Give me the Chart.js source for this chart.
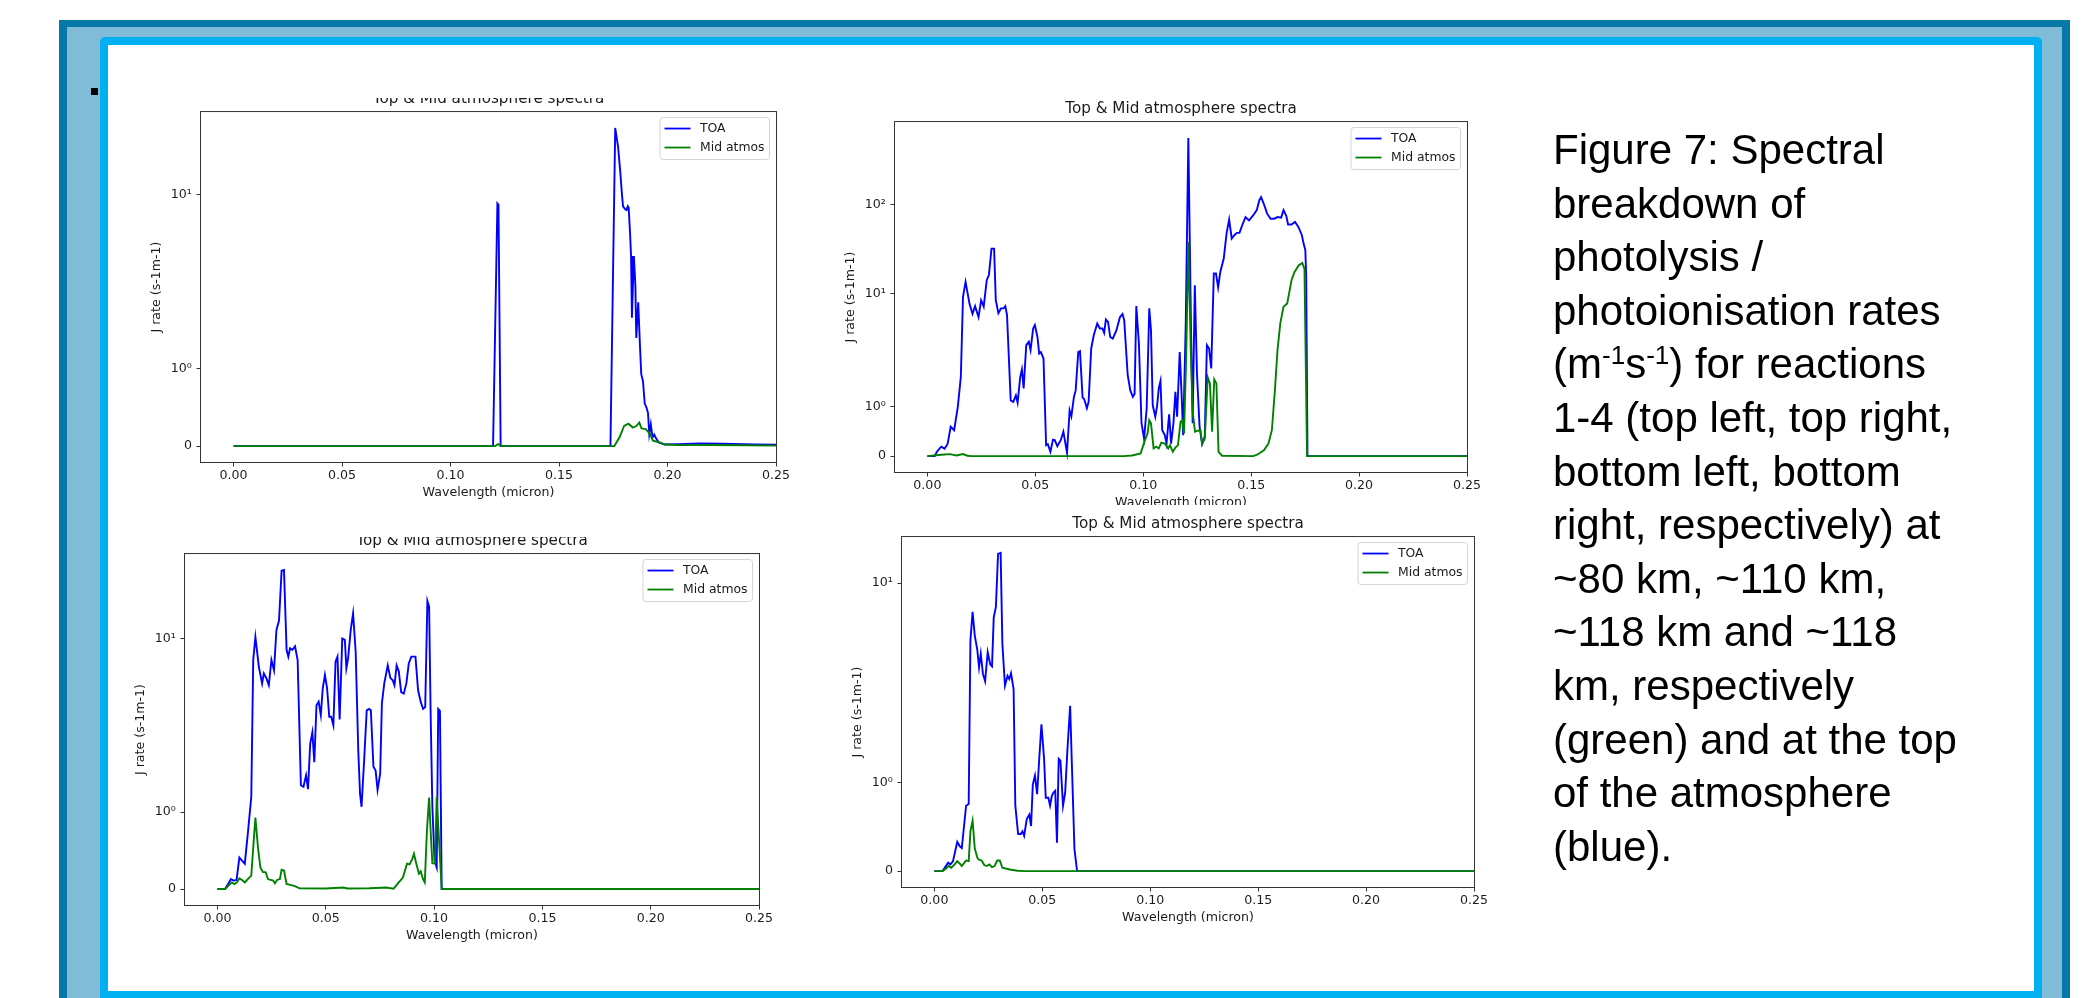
<!DOCTYPE html>
<html lang="en">
<head>
<meta charset="utf-8">
<title>Spectral breakdown of photolysis rates</title>
<script src="https://cdn.jsdelivr.net/npm/chart.js@4.4.0/dist/chart.umd.min.js"></script>
<style>
  html, body { margin: 0; padding: 0; width: 2081px; height: 998px; overflow: hidden; background: #fff; }
  .frame-dark { position: absolute; left: 59px; top: 20px; width: 2011px; height: 1000px; background: #0779a8; }
  .frame-light { position: absolute; left: 67px; top: 27px; width: 1995px; height: 1000px; background: #80bbd8; }
  .frame-cyan { position: absolute; left: 100px; top: 37px; width: 1942px; height: 1000px; background: #00b0f0; border-radius: 5px; }
  .panel { position: absolute; left: 108px; top: 45px; width: 1926px; height: 946px; background: #fff; }
  .bullet { position: absolute; left: 91px; top: 88px; width: 7px; height: 7px; background: #000; }
  canvas { position: absolute; }
  .caption { position: absolute; left: 1553px; top: 123px; font: 42px "Liberation Sans", Arial, sans-serif; line-height: 53.6px; color: #000; white-space: nowrap; }
  .caption .sup { font-size: 0.62em; position: relative; top: -0.55em; line-height: 0; }
</style>
</head>
<body>
<div class="frame-dark"></div>
<div class="frame-light"></div>
<div class="frame-cyan"></div>
<div class="panel"></div>
<div class="bullet"></div>

<canvas id="c1" width="735" height="425" style="left:121px;top:82px;clip-path:inset(16px 0 0 0)"></canvas>
<canvas id="c2" width="732" height="425" style="left:815px;top:92px;clip-path:inset(0 0 12px 0)"></canvas>
<canvas id="c3" width="734" height="426" style="left:105px;top:524px;clip-path:inset(13px 0 0 0)"></canvas>
<canvas id="c4" width="732" height="425" style="left:822px;top:507px"></canvas>

<div class="caption">Figure 7: Spectral<br>breakdown of<br>photolysis /<br>photoionisation rates<br>(m<span class="sup">-1</span>s<span class="sup">-1</span>) for reactions<br>1-4 (top left, top right,<br>bottom left, bottom<br>right, respectively) at<br>~80 km, ~110 km,<br>~118 km and ~118<br>km, respectively<br>(green) and at the top<br>of the atmosphere<br>(blue).</div>

<script>
// labels
const chartTitle = 'Top & Mid atmosphere spectra';
const xLabel = 'Wavelength (micron)';
const yLabel = 'J rate (s-1m-1)';
const seriesNames = ['TOA', 'Mid atmos'];
const xTicks = [0, 0.05, 0.10, 0.15, 0.20, 0.25];
const xMin = -0.015, xMax = 0.25;

// top left
const c1ToaX = [0, 0.1196, 0.1216, 0.1221, 0.1231, 0.1737, 0.1759, 0.1772, 0.1782, 0.1790, 0.1795, 0.1805, 0.1811, 0.1817, 0.1821,
  0.1827, 0.1832, 0.1836, 0.1845, 0.1852, 0.1856, 0.1865, 0.1873, 0.1879, 0.1887, 0.1895, 0.1903, 0.1910, 0.1916, 0.1923, 0.1931,
  0.1939, 0.1947, 0.1960, 0.1986, 0.205, 0.215, 0.225, 0.240, 0.30];
const c1ToaY = [0, 0, 8.6, 8.4, 0, 0, 30, 22, 14.7, 10, 8.2, 7.8, 7.7, 8.2, 8.0,
  5.4, 3.6, 1.66, 3.6, 2.2, 1.40, 1.86, 1.3, 0.93, 0.84, 0.55, 0.50, 0.43, 0.155, 0.28, 0.11,
  0.15, 0.10, 0.047, 0.02, 0.025, 0.035, 0.03, 0.02, 0.01];
const c1MidX = [0, 0.1205, 0.1220, 0.1235, 0.1755, 0.1780, 0.1800, 0.1820, 0.1840, 0.1856, 0.1870, 0.1880, 0.1900, 0.1920, 0.1933,
  0.1960, 0.1990, 0.205, 0.220, 0.235, 0.250, 0.30];
const c1MidY = [0, 0, 0.025, 0, 0, 0.12, 0.26, 0.29, 0.24, 0.26, 0.305, 0.23, 0.22, 0.155, 0.07,
  0.05, 0.02, 0.012, 0.015, 0.01, 0.006, 0.003];

// top right
const c2ToaX = [0, 0.0034, 0.0044, 0.0064, 0.0080, 0.0094, 0.0108, 0.0124, 0.0141, 0.0155,
  0.0165, 0.0177, 0.0195, 0.0209, 0.0221, 0.0237, 0.0249, 0.0261, 0.0275, 0.0285,
  0.0297, 0.0309, 0.0317, 0.0329, 0.0341, 0.0353, 0.0361, 0.0369, 0.0386, 0.0398,
  0.0410, 0.0418, 0.0430, 0.0438, 0.0446, 0.0458, 0.0470, 0.0478, 0.0490, 0.0498,
  0.0510, 0.0518, 0.0526, 0.0538, 0.0550, 0.0558, 0.0570, 0.0582, 0.0590, 0.0602,
  0.0618, 0.0630, 0.0647, 0.0659, 0.0667, 0.0679, 0.0687, 0.0699, 0.0707, 0.0719,
  0.0727, 0.0739, 0.0747, 0.0759, 0.0771, 0.0787, 0.0799, 0.0811, 0.0819, 0.0827,
  0.0837, 0.0847, 0.0859, 0.0876, 0.0892, 0.0904, 0.0912, 0.0928, 0.0940, 0.0952,
  0.0960, 0.0968, 0.0980, 0.0992, 0.1004, 0.1016, 0.1028, 0.1036, 0.1044, 0.1056,
  0.1064, 0.1072, 0.1080, 0.1088, 0.1100, 0.1108, 0.1120, 0.1129, 0.1140, 0.1149,
  0.1157, 0.1169, 0.1177, 0.1185, 0.1197, 0.1209, 0.1221, 0.1229, 0.1239, 0.1249,
  0.1261, 0.1273, 0.1285, 0.1295, 0.1305, 0.1315, 0.1327, 0.1337, 0.1347, 0.1357,
  0.1373, 0.1386, 0.1398, 0.1410, 0.1422, 0.1434, 0.1446, 0.1458, 0.1474, 0.1490,
  0.1510, 0.1526, 0.1538, 0.1546, 0.1558, 0.1574, 0.1590, 0.1606, 0.1623, 0.1639,
  0.1650, 0.1663, 0.1671, 0.1687, 0.1703, 0.1719, 0.1735, 0.1743, 0.1751, 0.1755,
  0.1761, 0.30];
const c2ToaY = [0, 0, 0.087, 0.19, 0.15, 0.25, 0.59, 0.52, 0.99, 1.59,
  9.27, 13.6, 7.8, 6.0, 7.3, 5.5, 8.5, 7.2, 14.2, 16.2,
  32, 32, 8.5, 6.1, 6.9, 6.9, 7.3, 5.8, 1.12, 1.09,
  1.22, 1.07, 1.58, 1.74, 1.36, 2.68, 2.92, 2.36, 4.11, 4.48,
  3.31, 2.16, 2.24, 1.96, 0.22, 0.24, 0.087, 0.33, 0.32, 0.2,
  0.32, 0.49, 0.067, 0.92, 0.80, 1.19, 1.32, 2.24, 2.3, 1.18,
  1.14, 0.96, 1.09, 2.46, 3.47, 4.68, 4.11, 4.11, 3.67, 5.18,
  4.88, 3.31, 3.17, 3.94, 5.5, 5.95, 5.07, 1.63, 1.32, 1.19,
  1.25, 7.3, 2.8, 0.66, 0.35, 0.96, 6.9, 3.94, 1.02, 0.79,
  1.0, 1.36, 1.51, 0.52, 0.42, 0.25, 0.84, 0.25, 0.66, 1.29,
  0.79, 2.24, 1.32, 0.42, 4.68, 550, 4.68, 0.66, 12.5, 1.66,
  0.59, 0.24, 0.39, 2.68, 2.46, 1.76, 16.9, 16.9, 11.8, 17.6,
  24.8, 47, 67.6, 41.5, 45.2, 48, 48, 58, 72, 66,
  75.5, 86, 111, 120, 102, 78.6, 69, 69, 72, 71,
  86, 73.7, 59.5, 59.5, 63.6, 56, 45.2, 36.4, 30.8, 15.5,
  0, 0];
const c2MidX = [0, 0.0064, 0.0104, 0.0135, 0.0165, 0.0185, 0.0205, 0.0908, 0.0948, 0.0988,
  0.1008, 0.1020, 0.1028, 0.1036, 0.1048, 0.1060, 0.1072, 0.1084, 0.1100, 0.1116,
  0.1124, 0.1137, 0.1149, 0.1161, 0.1173, 0.1181, 0.1189, 0.1199, 0.1209, 0.1221,
  0.1229, 0.1240, 0.1253, 0.1265, 0.1273, 0.1285, 0.1299, 0.1309, 0.1319, 0.1329,
  0.1339, 0.1349, 0.1365, 0.1510, 0.1530, 0.1560, 0.1580, 0.1596, 0.1610, 0.1622,
  0.1635, 0.1650, 0.1667, 0.1687, 0.1701, 0.1721, 0.1737, 0.1747, 0.1759, 0.30];
const c2MidY = [0, 0.027, 0.04, 0.013, 0.04, 0.007, 0, 0, 0.013, 0.054,
  0.32, 0.455, 0.72, 0.66, 0.154, 0.19, 0.154, 0.27, 0.25, 0.154,
  0.22, 0.087, 0.17, 0.22, 0.69, 0.72, 0.455, 1.99, 38, 2.0,
  0.89, 0.49, 0.51, 0.52, 0.25, 0.35, 1.58, 1.46, 0.49, 1.54,
  1.46, 0.087, 0.007, 0, 0.033, 0.12, 0.25, 0.52, 1.32, 2.36,
  4.68, 7.2, 7.8, 14.2, 17.6, 20.9, 22.2, 19, 0, 0];

// bottom left
const c3ToaX = [0, 0.0035, 0.0049, 0.0062, 0.0074, 0.0088, 0.0101, 0.0113, 0.0126, 0.0140,
  0.0156, 0.0165, 0.0175, 0.0191, 0.0206, 0.0214, 0.0226, 0.0237, 0.0249, 0.0261,
  0.0272, 0.0284, 0.0296, 0.0307, 0.0319, 0.0327, 0.0335, 0.0346, 0.0358, 0.0370,
  0.0385, 0.0397, 0.0409, 0.0418, 0.0428, 0.0438, 0.0447, 0.0457, 0.0467, 0.0477,
  0.0486, 0.0496, 0.0506, 0.0516, 0.0525, 0.0535, 0.0545, 0.0554, 0.0564, 0.0576,
  0.0588, 0.0595, 0.0603, 0.0615, 0.0626, 0.0638, 0.0650, 0.0658, 0.0665, 0.0677,
  0.0689, 0.0700, 0.0708, 0.0720, 0.0730, 0.0739, 0.0751, 0.0759, 0.0770, 0.0786,
  0.0798, 0.0809, 0.0817, 0.0827, 0.0837, 0.0848, 0.0860, 0.0872, 0.0883, 0.0895,
  0.0914, 0.0926, 0.0938, 0.0949, 0.0959, 0.0969, 0.0977, 0.0984, 0.0992, 0.1002,
  0.1012, 0.1019, 0.1027, 0.1035, 0.30];
const c3ToaY = [0, 0, 0.065, 0.13, 0.11, 0.117, 0.41, 0.37, 0.33, 0.72,
  1.2, 7.0, 10.3, 6.25, 4.74, 5.6, 5.15, 4.6, 7.0, 5.9,
  11.5, 13.5, 30.9, 31.3, 8.3, 7.4, 8.5, 8.3, 8.8, 7.0,
  1.35, 1.33, 1.48, 1.30, 1.89, 2.1, 1.65, 3.3, 3.5, 2.8,
  4.36, 5.45, 4.36, 2.72, 2.72, 2.36, 6.8, 7.4, 2.6, 10.0,
  9.8, 6.1, 7.2, 11.5, 15.2, 8.0, 1.80, 1.24, 1.07, 1.67,
  3.03, 3.1, 3.03, 1.59, 1.54, 1.29, 1.5, 3.4, 4.74, 6.4,
  5.2, 5.0, 4.6, 6.4, 5.8, 4.1, 4.0, 4.74, 6.6, 7.4,
  7.4, 4.25, 3.5, 3.1, 3.2, 18.7, 17.0, 2.9, 1.07, 0.37,
  0.28, 3.1, 3.0, 0, 0];
const c3MidX = [0, 0.0035, 0.0050, 0.0066, 0.0078, 0.0090, 0.0101, 0.0113, 0.0126, 0.0140,
  0.0156, 0.0165, 0.0175, 0.0187, 0.0198, 0.0210, 0.0222, 0.0233, 0.0245, 0.0257,
  0.0265, 0.0276, 0.0288, 0.0296, 0.0307, 0.0319, 0.0340, 0.0360, 0.0379, 0.0500,
  0.0580, 0.0600, 0.0700, 0.0759, 0.0778, 0.0813, 0.0837, 0.0856, 0.0875, 0.0887,
  0.0899, 0.0907, 0.0918, 0.0930, 0.0938, 0.0949, 0.0957, 0.0967, 0.0977, 0.0984,
  0.0992, 0.1004, 0.1012, 0.1023, 0.1035, 0.30];
const c3MidY = [0, 0, 0.043, 0.087, 0.065, 0.087, 0.14, 0.117, 0.087, 0.13,
  0.174, 0.54, 0.93, 0.54, 0.28, 0.22, 0.22, 0.13, 0.12, 0.11,
  0.074, 0.12, 0.13, 0.25, 0.24, 0.065, 0.052, 0.035, 0.009, 0.008,
  0.02, 0.008, 0.01, 0.017, 0.02, 0.005, 0.087, 0.15, 0.33, 0.32,
  0.39, 0.46, 0.33, 0.2, 0.23, 0.13, 0.087, 0.76, 1.19, 0.76,
  0.335, 0.33, 1.2, 0.63, 0, 0];

// bottom right
const c4ToaX = [0, 0.0038, 0.0050, 0.0064, 0.0074, 0.0086, 0.0106, 0.0118, 0.0127, 0.0147,
  0.0159, 0.0167, 0.0177, 0.0187, 0.0199, 0.0207, 0.0215, 0.0225, 0.0235, 0.0247,
  0.0259, 0.0267, 0.0275, 0.0285, 0.0295, 0.0307, 0.0315, 0.0327, 0.0339, 0.0347,
  0.0355, 0.0367, 0.0375, 0.0388, 0.0400, 0.0408, 0.0416, 0.0428, 0.0440, 0.0448,
  0.0456, 0.0466, 0.0476, 0.0486, 0.0496, 0.0508, 0.0516, 0.0528, 0.0536, 0.0544,
  0.0552, 0.0560, 0.0568, 0.0576, 0.0584, 0.0596, 0.0606, 0.0616, 0.0629, 0.0637,
  0.0649, 0.0661, 0.30];
const c4ToaY = [0, 0, 0.045, 0.095, 0.076, 0.11, 0.33, 0.28, 0.26, 0.74,
  0.76, 4.37, 6.6, 4.7, 3.8, 2.96, 3.6, 2.69, 2.42, 3.68,
  3.08, 3.0, 6.1, 7.1, 15.3, 15.5, 4.16, 2.27, 2.62, 2.5,
  2.72, 2.16, 0.74, 0.42, 0.42, 0.45, 0.40, 0.59, 0.64, 0.51,
  0.98, 1.08, 0.87, 1.28, 1.66, 1.28, 0.83, 0.83, 0.74, 0.85,
  0.89, 0.91, 0.32, 1.27, 1.25, 0.74, 0.89, 1.36, 1.87, 1.21,
  0.25, 0, 0];
const c4MidX = [0, 0.0038, 0.0054, 0.0066, 0.0078, 0.0094, 0.0106, 0.0118, 0.0127, 0.0139,
  0.0147, 0.0159, 0.0167, 0.0177, 0.0187, 0.0199, 0.0207, 0.0219, 0.0231, 0.0243,
  0.0255, 0.0267, 0.0279, 0.0291, 0.0303, 0.0315, 0.0335, 0.0355, 0.0386, 0.0420, 0.30];
const c4MidY = [0, 0, 0.03, 0.057, 0.038, 0.076, 0.113, 0.083, 0.057, 0.095,
  0.12, 0.113, 0.45, 0.57, 0.26, 0.15, 0.13, 0.12, 0.068, 0.057,
  0.076, 0.045, 0.057, 0.12, 0.12, 0.038, 0.026, 0.015, 0.004, 0, 0];

// symlog scale like matplotlib (linthresh 2, linscale 1, base 10)
const LT = 2, LA = 1 / (1 - 1 / 10);
function symlog(v) {
  const a = Math.abs(v);
  return a <= LT ? v * LA : Math.sign(v) * LT * (LA + Math.log10(a / LT));
}
function symexp(f) {
  const a = Math.abs(f);
  return a <= LT * LA ? f / LA : Math.sign(f) * LT * Math.pow(10, a / LT - LA);
}

class SymlogScale extends Chart.Scale {
  determineDataLimits() {
    const {min, max} = this.getMinMax(true);
    const lo = symlog(min), hi = symlog(max), m = (hi - lo) * 0.05;
    this._lo = lo - m;
    this._hi = hi + m;
    this.min = symexp(this._lo);
    this.max = symexp(this._hi);
  }
  buildTicks() {
    const t = [];
    if (this.min <= 0 && this.max >= 0) t.push({value: 0});
    for (let e = 0; Math.pow(10, e) <= this.max; e++) t.push({value: Math.pow(10, e)});
    return t;
  }
  getLabelForValue(v) { return String(v); }
  getPixelForValue(v) {
    return this.getPixelForDecimal((symlog(v) - this._lo) / (this._hi - this._lo));
  }
  getValueForPixel(p) {
    return symexp(this._lo + this.getDecimalForPixel(p) * (this._hi - this._lo));
  }
}
SymlogScale.id = 'symlog';
SymlogScale.defaults = {};
Chart.register(SymlogScale);

const fam = "'DejaVu Sans', sans-serif";
const ink = '#1a1a1a';
const tickSize = 12.6;
const supDigits = ['\u2070', '\u00b9', '\u00b2', '\u00b3'];

// axes box
const spines = {
  id: 'spines',
  afterDatasetsDraw(chart) {
    const {ctx, chartArea: a} = chart;
    ctx.save();
    ctx.strokeStyle = '#333';
    ctx.lineWidth = 1;
    ctx.strokeRect(a.left - 0.5, a.top - 0.5, a.right - a.left + 1, a.bottom - a.top + 1);
    ctx.restore();
  }
};

// matplotlib style legend in the upper right corner
const boxLegend = {
  id: 'boxLegend',
  afterDatasetsDraw(chart) {
    const {ctx, chartArea: a} = chart;
    const sets = chart.data.datasets;
    ctx.save();
    ctx.font = '12.4px ' + fam;
    const tw = Math.max(...sets.map(d => ctx.measureText(d.label).width));
    const w = 45 + tw, h = 42;
    const x = a.right - 6.5 - w, y = a.top + 5.5;
    ctx.beginPath();
    ctx.roundRect(x, y, w, h, 3);
    ctx.fillStyle = 'rgba(255,255,255,0.85)';
    ctx.fill();
    ctx.strokeStyle = '#d4d4d4';
    ctx.lineWidth = 1;
    ctx.stroke();
    sets.forEach((d, i) => {
      const cy = y + 11 + i * 19;
      ctx.strokeStyle = d.borderColor;
      ctx.lineWidth = 1.8;
      ctx.beginPath();
      ctx.moveTo(x + 4.5, cy);
      ctx.lineTo(x + 30.5, cy);
      ctx.stroke();
      ctx.fillStyle = ink;
      ctx.textBaseline = 'middle';
      ctx.fillText(d.label, x + 40, cy + 0.5);
    });
    ctx.restore();
  }
};

function makeChart(id, toaX, toaY, midX, midY) {
  const pts = (xs, ys) => xs.map((x, i) => ({x: x, y: ys[i]}));
  return new Chart(document.getElementById(id), {
    type: 'line',
    data: {
      datasets: [
        {label: seriesNames[0], data: pts(toaX, toaY), borderColor: '#0000ff', order: 1},
        {label: seriesNames[1], data: pts(midX, midY), borderColor: '#008000', order: 0}
      ]
    },
    options: {
      responsive: false,
      animation: false,
      events: [],
      devicePixelRatio: 1,
      layout: {padding: {left: 28, right: 80, top: 7.6, bottom: 6.8}},
      elements: {point: {radius: 0}, line: {borderWidth: 1.9, tension: 0}},
      plugins: {
        legend: {display: false},
        tooltip: {enabled: false},
        title: {
          display: true, text: chartTitle, color: ink, fullSize: false,
          font: {family: fam, size: 15.2, weight: 'normal'},
          padding: {top: 0, bottom: 4.2}
        }
      },
      scales: {
        x: {
          type: 'linear', min: xMin, max: xMax,
          afterFit: s => { s.height = 38.2; },
          afterBuildTicks: s => { s.ticks = xTicks.map(v => ({value: v})); },
          ticks: {callback: v => v.toFixed(2), color: ink, font: {family: fam, size: tickSize}, padding: 1.2, maxRotation: 0, autoSkip: false},
          grid: {drawOnChartArea: false, tickLength: 4.5, tickColor: '#333'},
          border: {display: false},
          title: {display: true, text: xLabel, color: ink, font: {family: fam, size: tickSize}, padding: 0}
        },
        y: {
          type: 'symlog',
          afterFit: s => { s.width = 52; },
          ticks: {
            callback: v => v === 0 ? '0' : '10' + supDigits[Math.round(Math.log10(v))],
            color: ink, font: {family: fam, size: tickSize}, padding: 4.6, autoSkip: false
          },
          grid: {drawOnChartArea: false, tickLength: 4.5, tickColor: '#333'},
          border: {display: false},
          title: {display: true, text: yLabel, color: ink, font: {family: fam, size: tickSize}, padding: 0}
        }
      }
    },
    plugins: [spines, boxLegend]
  });
}

makeChart('c1', c1ToaX, c1ToaY, c1MidX, c1MidY);
makeChart('c2', c2ToaX, c2ToaY, c2MidX, c2MidY);
makeChart('c3', c3ToaX, c3ToaY, c3MidX, c3MidY);
makeChart('c4', c4ToaX, c4ToaY, c4MidX, c4MidY);
</script>
</body>
</html>
